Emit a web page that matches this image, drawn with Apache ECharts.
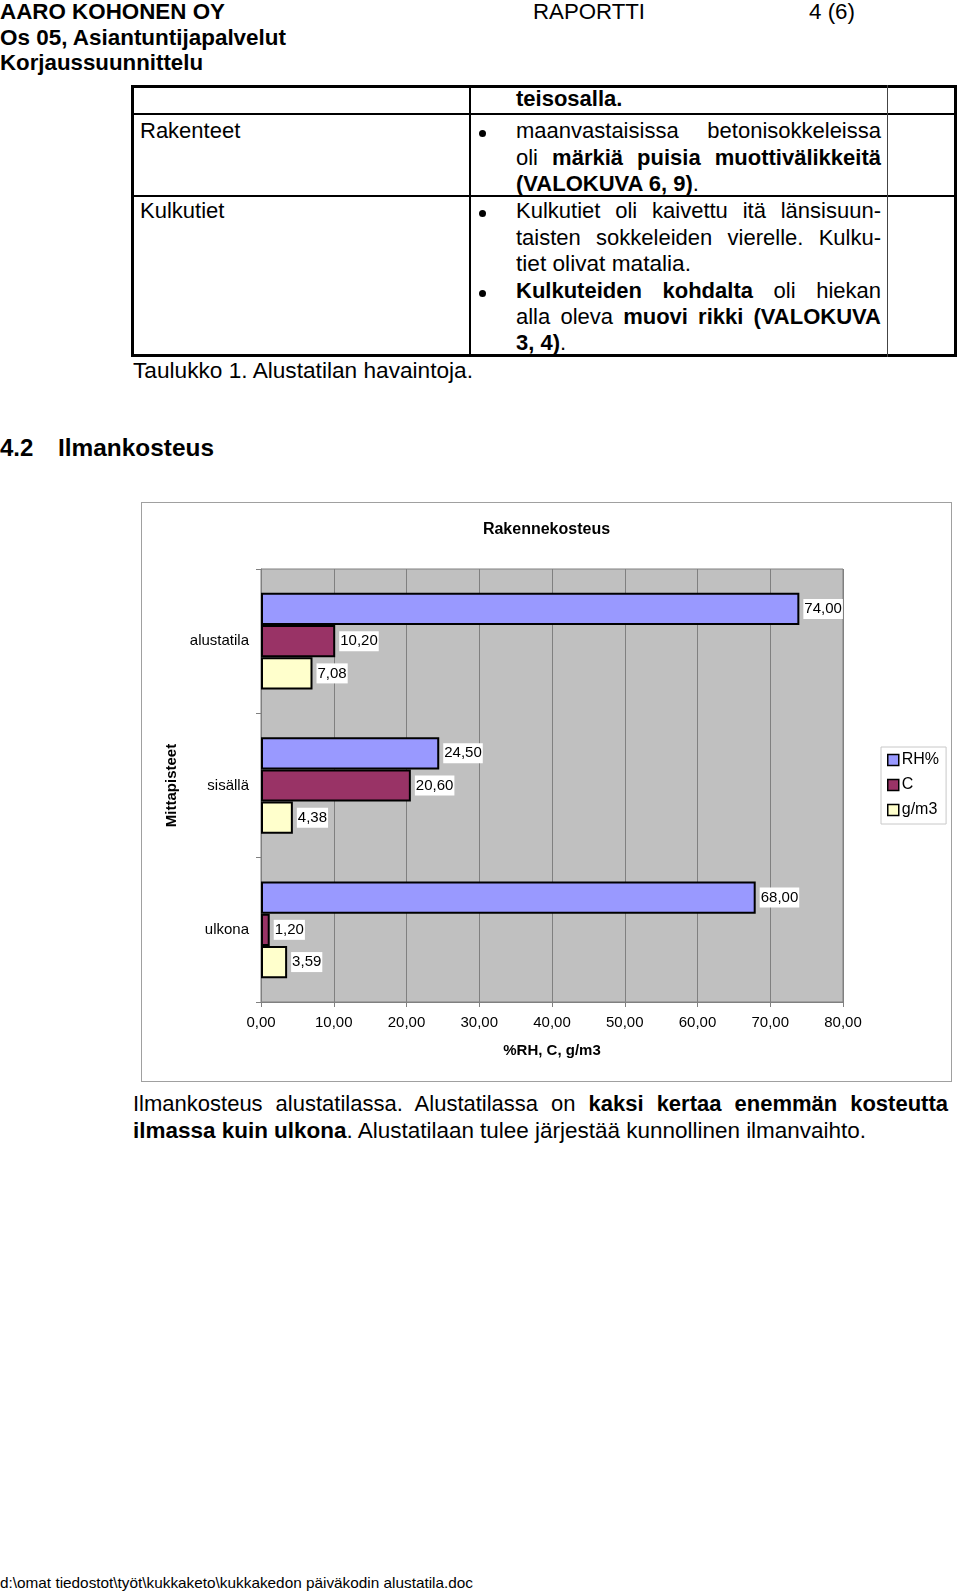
<!DOCTYPE html>
<html><head><meta charset="utf-8">
<script src="https://cdn.jsdelivr.net/npm/echarts@6/dist/echarts.min.js"></script>
<style>
body{margin:0;width:960px;height:1595px;background:#fff;position:relative;font-family:"Liberation Sans",Arial,sans-serif;color:#000;overflow:hidden}
.t{position:absolute;white-space:nowrap;line-height:26px;font-size:22px;transform-origin:0 50%}
.j{text-align:justify;text-align-last:justify;white-space:normal}
.b{font-weight:bold}
.ln{position:absolute;background:#000}
.dot{position:absolute;width:7px;height:7px;border-radius:50%;background:#000}
#box{position:absolute;left:141px;top:502px;width:809px;height:578px;border:1px solid #a0a0a0}
#chart{position:absolute;left:141px;top:502px;width:811px;height:580px}
</style></head><body>
<!-- header -->
<div class="t b" style="left:0;top:-1px" data-w="225">AARO KOHONEN OY</div>
<div class="t" style="left:533px;top:-1px" data-w="112">RAPORTTI</div>
<div class="t" style="left:809px;top:-1px" data-w="46">4 (6)</div>
<div class="t b" style="left:0;top:25px" data-w="286">Os 05, Asiantuntijapalvelut</div>
<div class="t b" style="left:0;top:50px" data-w="203">Korjaussuunnittelu</div>

<!-- table lines -->
<div class="ln" style="left:131px;top:85px;width:826px;height:3px"></div>
<div class="ln" style="left:131px;top:354px;width:826px;height:3px"></div>
<div class="ln" style="left:131px;top:85px;width:3px;height:272px"></div>
<div class="ln" style="left:954px;top:85px;width:3px;height:272px"></div>
<div class="ln" style="left:131px;top:113px;width:826px;height:2px"></div>
<div class="ln" style="left:131px;top:195px;width:826px;height:2px"></div>
<div class="ln" style="left:469px;top:85px;width:2px;height:272px"></div>
<div class="ln" style="left:887px;top:85px;width:1px;height:272px;background:#444"></div>

<!-- table text -->
<div class="t b" style="left:516px;top:86px">teisosalla.</div>
<div class="t" style="left:140px;top:118px">Rakenteet</div>
<div class="dot" style="left:479px;top:130px"></div>
<div class="t j" style="left:516px;top:118px;width:365px">maanvastaisissa betonisokkeleissa</div>
<div class="t j" style="left:516px;top:145px;width:365px">oli <b>märkiä puisia muottivälikkeitä</b></div>
<div class="t" style="left:516px;top:171px"><b>(VALOKUVA 6, 9)</b>.</div>
<div class="t" style="left:140px;top:198px">Kulkutiet</div>
<div class="dot" style="left:479px;top:210px"></div>
<div class="t j" style="left:516px;top:198px;width:365px">Kulkutiet oli kaivettu itä länsisuun-</div>
<div class="t j" style="left:516px;top:225px;width:365px">taisten sokkeleiden vierelle. Kulku-</div>
<div class="t" style="left:516px;top:251px" data-w="175">tiet olivat matalia.</div>
<div class="dot" style="left:479px;top:290px"></div>
<div class="t j" style="left:516px;top:278px;width:365px"><b>Kulkuteiden kohdalta</b> oli hiekan</div>
<div class="t j" style="left:516px;top:304px;width:365px">alla oleva <b>muovi rikki (VALOKUVA</b></div>
<div class="t" style="left:516px;top:330px"><b>3, 4)</b>.</div>
<div class="t" style="left:133px;top:358px" data-w="340">Taulukko 1. Alustatilan havaintoja.</div>

<div class="t b" style="left:0;top:434px;font-size:24px;line-height:28px">4.2</div>
<div class="t b" style="left:58px;top:434px;font-size:24px;line-height:28px" data-w="156">Ilmankosteus</div>

<div id="box"></div>
<div id="chart"></div>

<div class="t j" style="left:133px;top:1091px;width:815px">Ilmankosteus alustatilassa. Alustatilassa on <b>kaksi kertaa enemmän kosteutta</b></div>
<div class="t" style="left:133px;top:1118px" data-w="733"><b>ilmassa kuin ulkona</b>. Alustatilaan tulee järjestää kunnollinen ilmanvaihto.</div>

<div class="t" style="left:0;top:1574px;font-size:15px;line-height:18px" data-w="473">d:\omat tiedostot\työt\kukkaketo\kukkakedon päiväkodin alustatila.doc</div>

<script>
const categories = ['alustatila', 'sisällä', 'ulkona'];
const seriesNames = ['RH%', 'C', 'g/m3'];
const rhValues = [74.00, 24.50, 68.00];
const cValues = [10.20, 20.60, 1.20];
const gValues = [7.08, 4.38, 3.59];
const xMin = 0, xMax = 80, xStep = 10;
const chartTitle = 'Rakennekosteus';
const xAxisName = '%RH, C, g/m3';
const yAxisName = 'Mittapisteet';

// fit text widths
document.querySelectorAll('[data-w]').forEach(el => {
  const w = parseFloat(el.dataset.w);
  const r = el.getBoundingClientRect().width;
  if (r > 0) el.style.transform = 'scaleX(' + (w / r) + ')';
});

const ff = '"Liberation Sans", Arial, sans-serif';
const fmt = v => Number(v).toFixed(2).replace('.', ',');
const colors = ['#9999ff', '#993366', '#ffffcc'];
const valueSets = [rhValues, cValues, gValues];

const chart = echarts.init(document.getElementById('chart'));
chart.setOption({
  animation: false,
  textStyle: { fontFamily: ff },
  title: { text: chartTitle, left: 'center', top: 15, textStyle: { fontFamily: ff, fontSize: 16, fontWeight: 'bold', color: '#000' } },
  legend: {
    data: seriesNames, orient: 'vertical', left: 740, top: 245,
    itemWidth: 11, itemHeight: 11, itemGap: 9, padding: [5, 7, 6, 6],
    borderColor: '#c8c8c8', borderWidth: 1, icon: 'rect',
    itemStyle: { borderColor: '#000', borderWidth: 1.5 },
    textStyle: { fontFamily: ff, fontSize: 16, color: '#000', padding: [0, 0, 0, -2] }
  },
  grid: { left: 120, right: 109, top: 67, bottom: 80, show: true, backgroundColor: '#c0c0c0', borderColor: '#808080', borderWidth: 1 },
  xAxis: {
    type: 'value', min: xMin, max: xMax, interval: xStep,
    axisLine: { show: true, lineStyle: { color: '#808080' } },
    axisTick: { show: true, length: 5, lineStyle: { color: '#808080' } },
    splitLine: { show: true, lineStyle: { color: '#808080', width: 1 } },
    axisLabel: { formatter: fmt, fontFamily: ff, fontSize: 15, color: '#000', margin: 13 },
    name: xAxisName, nameLocation: 'middle', nameGap: 41,
    nameTextStyle: { fontFamily: ff, fontWeight: 'bold', fontSize: 15, color: '#000' }
  },
  yAxis: {
    type: 'category', data: categories, inverse: true,
    axisLine: { show: true, lineStyle: { color: '#808080' } },
    axisTick: { show: true, length: 5, lineStyle: { color: '#808080' } },
    axisLabel: { fontFamily: ff, fontSize: 15, color: '#000', margin: 12 },
    name: yAxisName, nameLocation: 'middle', nameGap: 82, nameRotate: 90,
    nameTextStyle: { fontFamily: ff, fontWeight: 'bold', fontSize: 15, color: '#000' }
  },
  series: seriesNames.map((n, i) => ({
    name: n, type: 'bar', data: valueSets[i],
    barGap: '0%', barCategoryGap: '33%',
    itemStyle: { color: colors[i], borderColor: '#000', borderWidth: 2 },
    label: {
      show: true, position: 'right', distance: 4, formatter: p => fmt(p.value),
      fontFamily: ff, fontSize: 15, color: '#000', backgroundColor: '#fff', padding: [3, 1, 2, 1]
    }
  }))
});
</script>
</body></html>
